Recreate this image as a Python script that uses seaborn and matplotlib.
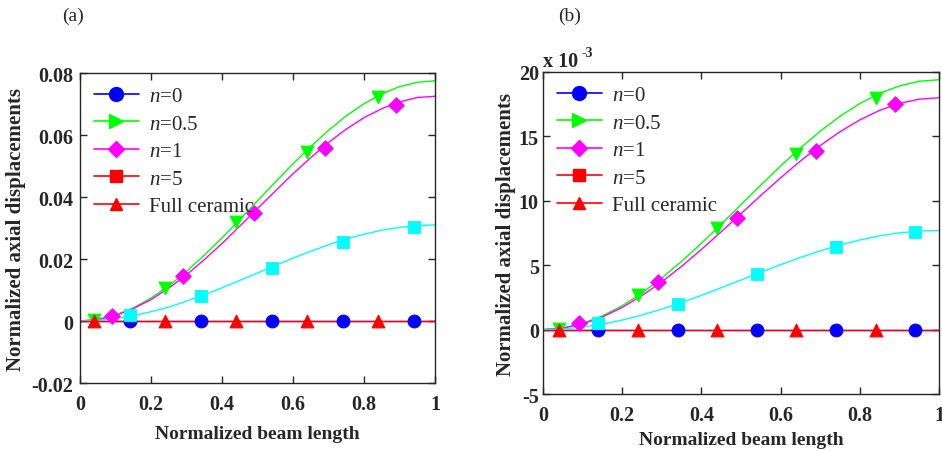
import matplotlib
matplotlib.use("Agg")

import matplotlib.pyplot as plt
import seaborn as sns
from matplotlib.lines import Line2D

# values (x grid every 0.05)
x_line = [0.0, 0.05, 0.1, 0.15, 0.2, 0.25, 0.3, 0.35, 0.4, 0.45, 0.5,
          0.55, 0.6, 0.65, 0.7, 0.75, 0.8, 0.85, 0.9, 0.95, 1.0]
zero_line = [0.0] * 21

a_n05 = [0, 0.0005, 0.0019, 0.0042, 0.0074, 0.0113, 0.0160, 0.0212, 0.0268, 0.0327, 0.0388,
         0.0448, 0.0507, 0.0563, 0.0615, 0.0662, 0.0701, 0.0733, 0.0756, 0.0770, 0.0775]
a_n1 = [0, 0.00045, 0.0018, 0.0040, 0.0069, 0.0106, 0.0149, 0.0198, 0.0250, 0.0306, 0.0363,
        0.0419, 0.0475, 0.0527, 0.0576, 0.0619, 0.0656, 0.0685, 0.0707, 0.0721, 0.0725]
a_n5 = [0, 0.0002, 0.0008, 0.0017, 0.0030, 0.0045, 0.0064, 0.0085, 0.0107, 0.0131, 0.0155,
        0.0179, 0.0203, 0.0225, 0.0246, 0.0265, 0.0280, 0.0293, 0.0302, 0.0308, 0.0310]

b_n05 = [0, 0.12, 0.48, 1.06, 1.85, 2.84, 4.00, 5.30, 6.70, 8.18, 9.70,
         11.22, 12.70, 14.10, 15.40, 16.56, 17.55, 18.34, 18.92, 19.28, 19.40]
b_n1 = [0, 0.11, 0.44, 0.98, 1.72, 2.64, 3.71, 4.91, 6.22, 7.59, 9.00,
        10.41, 11.78, 13.09, 14.29, 15.36, 16.28, 17.02, 17.56, 17.89, 18.00]
b_n5 = [0, 0.05, 0.19, 0.42, 0.74, 1.13, 1.59, 2.10, 2.66, 3.25, 3.85,
        4.45, 5.04, 5.60, 6.11, 6.57, 6.96, 7.28, 7.51, 7.65, 7.70]

# marker positions
x_mark_a = [0.04, 0.24, 0.44, 0.64, 0.84]   # n=0.5 and full ceramic
x_mark_b = [0.09, 0.29, 0.49, 0.69, 0.89]   # n=1
x_mark_c = [0.14, 0.34, 0.54, 0.74, 0.94]   # n=0 and n=5
zero_mark = [0.0] * 5

a_n05_mark = [0.0003, 0.0108, 0.0318, 0.0545, 0.0722]
a_n1_mark = [0.0015, 0.0145, 0.0350, 0.0557, 0.0697]
a_n5_mark = [0.0018, 0.0082, 0.0171, 0.0256, 0.0303]

b_n05_mark = [0.08, 2.7, 7.9, 13.6, 18.0]
b_n1_mark = [0.5, 3.7, 8.7, 13.9, 17.5]
b_n5_mark = [0.5, 2.0, 4.3, 6.4, 7.6]

labels = ["$n$=0", "$n$=0.5", "$n$=1", "$n$=5", "Full ceramic"]
x_ticks = [0, 0.2, 0.4, 0.6, 0.8, 1]
x_ticklabels = ["0", "0.2", "0.4", "0.6", "0.8", "1"]
a_yticks = [-0.02, 0, 0.02, 0.04, 0.06, 0.08]
a_yticklabels = ["-0.02", "0", "0.02", "0.04", "0.06", "0.08"]
b_yticks = [-5, 0, 5, 10, 15, 20]
b_yticklabels = ["-5", "0", "5", "10", "15", "20"]

sns.set_style("ticks")
plt.rcParams["font.family"] = ["Liberation Serif", "DejaVu Serif"]
plt.rcParams["mathtext.fontset"] = "custom"
plt.rcParams["mathtext.it"] = "Liberation Serif:italic"
plt.rcParams["mathtext.rm"] = "Liberation Serif"
plt.rcParams["axes.unicode_minus"] = False

BLUE, GREEN, MAG, CYAN, RED = "#0000ff", "#00ff00", "#ff00ff", "#00ffff", "#ff0000"
MS = 85


def draw(ax, n05, n1, n5, n05_m, n1_m, n5_m):
    lw = 1.0
    sns.lineplot(x=x_line, y=zero_line, ax=ax, color=BLUE, lw=lw)
    sns.scatterplot(x=x_mark_c, y=zero_mark, ax=ax, color=BLUE, marker="o", s=MS, edgecolor=BLUE, zorder=3)
    sns.lineplot(x=x_line, y=n05, ax=ax, color=GREEN, lw=lw)
    sns.scatterplot(x=x_mark_a, y=n05_m, ax=ax, color=GREEN, marker="v", s=MS, edgecolor=GREEN, zorder=3)
    sns.lineplot(x=x_line, y=n1, ax=ax, color=MAG, lw=lw)
    sns.scatterplot(x=x_mark_b, y=n1_m, ax=ax, color=MAG, marker="D", s=MS * 0.75, edgecolor=MAG, zorder=3)
    sns.lineplot(x=x_line, y=n5, ax=ax, color=CYAN, lw=lw)
    sns.scatterplot(x=x_mark_c, y=n5_m, ax=ax, color=CYAN, marker="s", s=MS * 0.8, edgecolor=CYAN, zorder=4)
    sns.lineplot(x=x_line, y=zero_line, ax=ax, color=RED, lw=lw)
    sns.scatterplot(x=x_mark_a, y=zero_mark, ax=ax, color=RED, marker="^", s=MS, edgecolor=RED, zorder=4)

    handles = [
        Line2D([], [], color=BLUE, marker="o", ms=10, lw=1.2),
        Line2D([], [], color=GREEN, marker=">", ms=10, lw=1.2),
        Line2D([], [], color=MAG, marker="D", ms=8, lw=1.2),
        Line2D([], [], color=RED, marker="s", ms=9, lw=1.2),
        Line2D([], [], color=RED, marker="^", ms=9, lw=1.2),
    ]
    ax.legend(handles, labels, loc="upper left", frameon=False,
              handlelength=2.2, handletextpad=0.45, labelspacing=0.38,
              borderaxespad=0.35, borderpad=0.3, prop={"size": 15, "weight": "normal"})

    ax.set_xlim(0, 1)
    ax.set_xticks(x_ticks)
    ax.set_xticklabels(x_ticklabels, fontsize=14.5, fontweight="bold")
    ax.tick_params(direction="in", top=True, right=True, length=5, width=1)
    ax.tick_params(axis="x", pad=8)
    ax.set_ylabel("Normalized axial displacements", fontsize=15, fontweight="bold")
    for s in ax.spines.values():
        s.set_linewidth(1.0)
        s.set_visible(True)


fig = plt.figure(figsize=(9.42, 4.52), dpi=100)
ax_a = fig.add_axes([0.0849, 0.1504, 0.3769, 0.6858])
ax_b = fig.add_axes([0.5764, 0.1261, 0.4204, 0.7124])

draw(ax_a, a_n05, a_n1, a_n5, a_n05_mark, a_n1_mark, a_n5_mark)
ax_a.set_ylim(-0.02, 0.08)
ax_a.set_yticks(a_yticks)
ax_a.set_yticklabels(a_yticklabels, fontsize=14.5, fontweight="bold")
ax_a.tick_params(axis="y", pad=5)
ax_a.set_xlabel("Normalized beam length", fontsize=14, fontweight="bold", labelpad=8)

draw(ax_b, b_n05, b_n1, b_n5, b_n05_mark, b_n1_mark, b_n5_mark)
ax_b.set_ylim(-5, 20)
ax_b.set_yticks(b_yticks)
ax_b.set_yticklabels(b_yticklabels, fontsize=14.5, fontweight="bold")
ax_b.tick_params(axis="y", pad=3)
ax_b.set_xlabel("Normalized beam length", fontsize=14, fontweight="bold", labelpad=4)
ax_b.yaxis.labelpad = 2

# exponent label of panel (b)
fig.text(543 / 942, 1 - 67 / 452, "x 10", fontsize=14.5, fontweight="bold", ha="left", va="baseline")
fig.text(581 / 942, 1 - 57 / 452, "-3", fontsize=10, fontweight="bold", ha="left", va="baseline")

fig.text(73 / 942, 1 - 16 / 452, "(a)", fontsize=14, ha="center", va="center")
fig.text(570 / 942, 1 - 16 / 452, "(b)", fontsize=14, ha="center", va="center")

fig.savefig("out.png", dpi=100)
plt.close(fig)
